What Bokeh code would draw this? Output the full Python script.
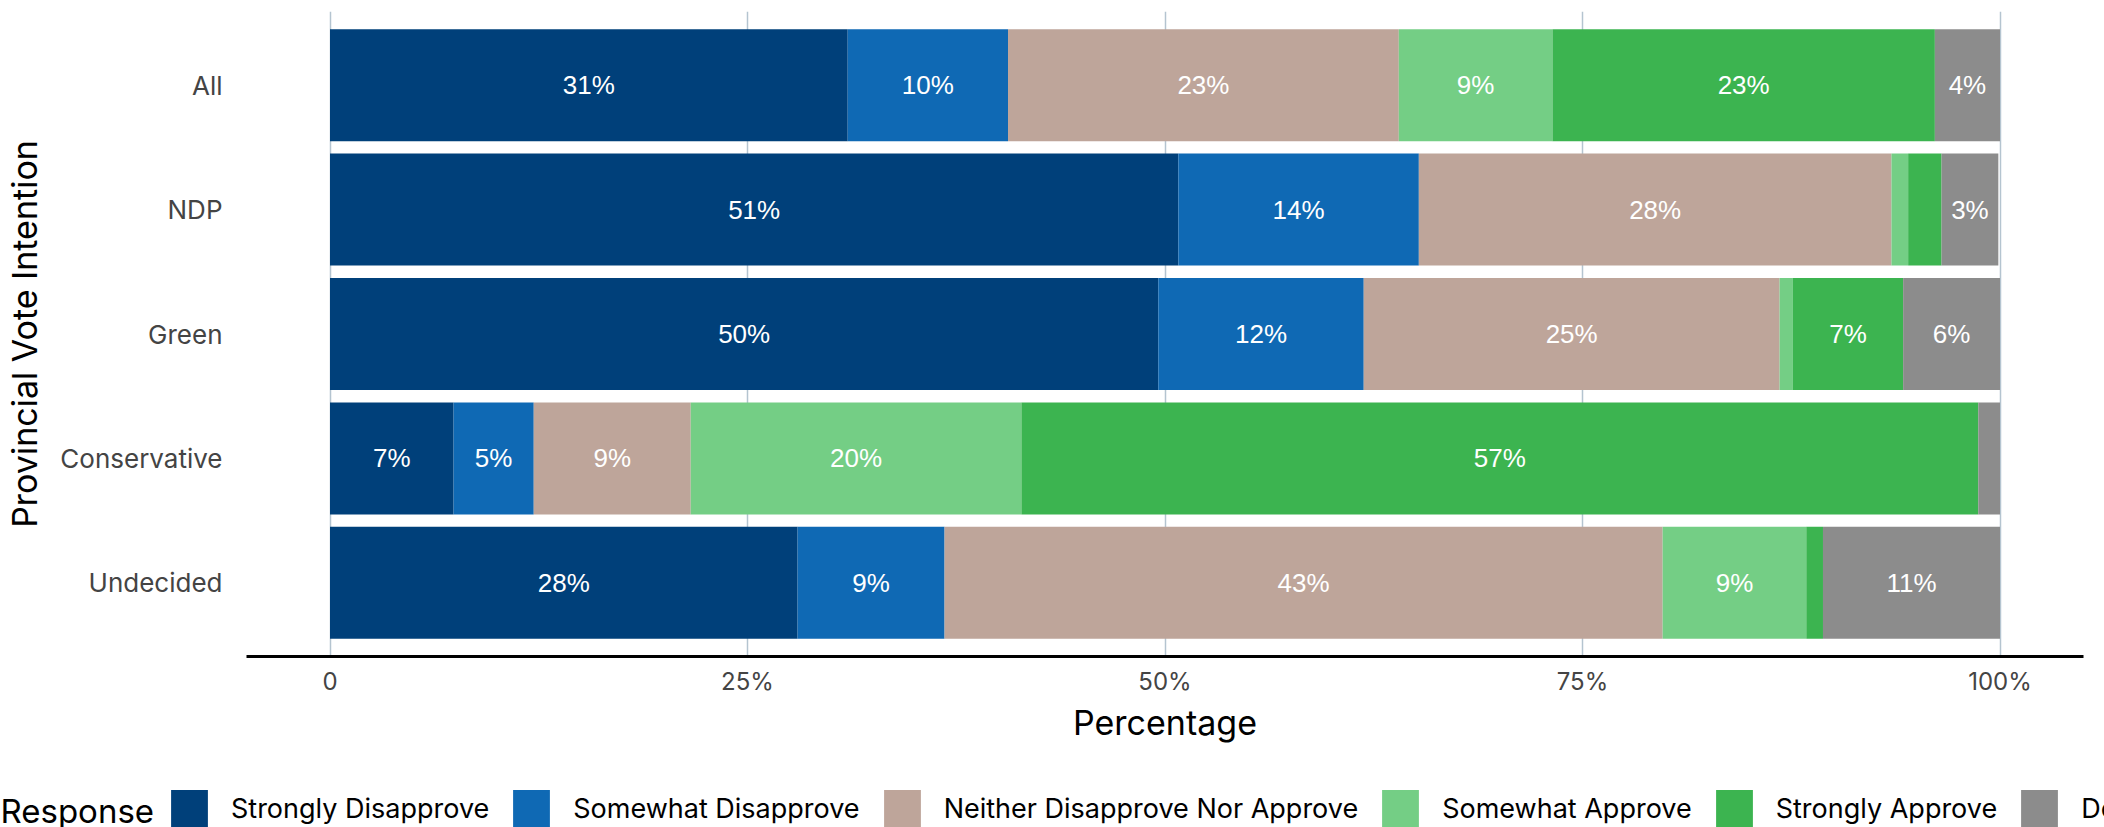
from bokeh.plotting import figure
from bokeh.layouts import column
from bokeh.models import ColumnDataSource, FactorRange, FixedTicker, Legend, LegendItem, Label, Range1d
from bokeh.core.properties import value
from bokeh.embed import file_html
from bokeh.resources import INLINE

# ---- data ----
groups = ["All", "NDP", "Green", "Conservative", "Undecided"]
responses = ["Strongly Disapprove", "Somewhat Disapprove", "Neither Disapprove Nor Approve",
             "Somewhat Approve", "Strongly Approve", "Don't Know"]
colors = ["#00407A", "#0F69B4", "#BEA59A", "#74CE85", "#3CB450", "#8C8C8C"]
strongly_disapprove = [31.0, 50.8, 49.6, 7.4, 28.0]
somewhat_disapprove = [9.6, 14.4, 12.3, 4.8, 8.8]
neither = [23.4, 28.3, 24.9, 9.4, 43.0]
somewhat_approve = [9.2, 1.0, 0.8, 19.8, 8.6]
strongly_approve = [22.9, 2.0, 6.6, 57.3, 1.0]
dont_know = [3.9, 3.4, 5.8, 1.3, 10.6]
tick_values = [0, 25, 50, 75, 100]
tick_labels = ["0", "25%", "50%", "75%", "100%"]

series = [strongly_disapprove, somewhat_disapprove, neither, somewhat_approve, strongly_approve, dont_know]
keys = ["s%d" % i for i in range(len(series))]

FONT = "Inter"
LABEL_FONT = "Liberation Sans"

data = {"group": groups}
for k, s in zip(keys, series):
    data[k] = s
source = ColumnDataSource(data)

# segment labels from the data
lx, ly, lt = [], [], []
for gi, g in enumerate(groups):
    cum = 0.0
    for s in series:
        v = s[gi]
        if v >= 3:
            lx.append(cum + v / 2)
            ly.append(g)
            lt.append("%d%%" % round(v))
        cum += v
label_src = ColumnDataSource(dict(x=lx, y=ly, text=lt))

p = figure(width=2104, height=760, output_backend="svg", toolbar_location=None,
           y_range=FactorRange(factors=list(reversed(groups)), range_padding=0.037),
           x_range=(-5, 105),
           min_border_left=246, min_border_right=21, min_border_top=11, min_border_bottom=104)
p.outline_line_color = None
p.background_fill_color = "white"

p.hbar_stack(keys, y="group", height=0.9, color=colors, source=source, line_color=None)

p.text(x="x", y="y", text="text", source=label_src, text_align="center",
       text_baseline="middle", text_color="white", text_font=value(LABEL_FONT),
       text_font_size="26px")

# axes
xa = p.xaxis[0]
xa.ticker = FixedTicker(ticks=tick_values)
xa.major_label_overrides = {t: l for t, l in zip(tick_values, tick_labels)}
xa.axis_label = "Percentage"
xa.axis_label_text_font = FONT
xa.axis_label_text_font_size = "34px"
xa.axis_label_text_font_style = "normal"
xa.axis_label_text_color = "black"
xa.axis_label_standoff = 3
xa.major_label_text_font = FONT
xa.major_label_text_font_size = "24px"
xa.major_label_text_color = "#444444"
xa.major_label_standoff = 10
xa.major_tick_line_color = None
xa.minor_tick_line_color = None
xa.major_tick_out = 0
xa.axis_line_color = "black"
xa.axis_line_width = 3

ya = p.yaxis[0]
ya.axis_label = "Provincial Vote Intention"
ya.axis_label_text_font = FONT
ya.axis_label_text_font_size = "34px"
ya.axis_label_text_font_style = "normal"
ya.axis_label_text_color = "black"
ya.axis_label_standoff = 12
ya.major_label_text_font = FONT
ya.major_label_text_font_size = "26px"
ya.major_label_text_color = "#444444"
ya.major_label_standoff = 24
ya.major_tick_line_color = None
ya.minor_tick_line_color = None
ya.major_tick_out = 0
ya.axis_line_color = None

p.xgrid.ticker = FixedTicker(ticks=tick_values)
p.xgrid.grid_line_color = "#B4C4D0"
p.xgrid.grid_line_width = 1.5
p.ygrid.grid_line_color = None

# ---- legend strip (its frame is the whole strip, so the legend is cut at the page edges) ----
lf = figure(width=2104, height=67, output_backend="svg", toolbar_location=None,
            x_range=Range1d(150, 151), y_range=FactorRange(factors=["legend"]),
            x_axis_location=None, y_axis_location=None,
            min_border=0, min_border_left=0, min_border_right=0, min_border_top=0,
            min_border_bottom=0)
lf.outline_line_color = None
lf.grid.visible = False
lf.background_fill_color = "white"
lf.border_fill_color = "white"

# same stacked data; it lies outside this strip's ranges, only the legend swatches show
legend_rends = lf.hbar_stack(keys, y="group", height=0.9, color=colors, source=source,
                             line_color=None)
items = [LegendItem(label=r, renderers=[rend]) for r, rend in zip(responses, legend_rends)]

legend = Legend(items=items, location=(166, -4), orientation="horizontal",
                glyph_width=46, glyph_height=46, label_standoff=19, spacing=19,
                padding=0, margin=0, border_line_color=None, background_fill_alpha=0,
                label_text_font=FONT, label_text_font_size="27px", label_text_color="black")
lf.add_layout(legend, "center")

lf.add_layout(Label(x=0, y=17, x_units="screen", y_units="screen", text="Response",
                    text_font=FONT, text_font_size="33px", text_color="black",
                    text_baseline="middle", text_align="left"))

layout = column(p, column(lf, spacing=0), spacing=0)
open("out.html", "w").write(file_html(layout, INLINE))
